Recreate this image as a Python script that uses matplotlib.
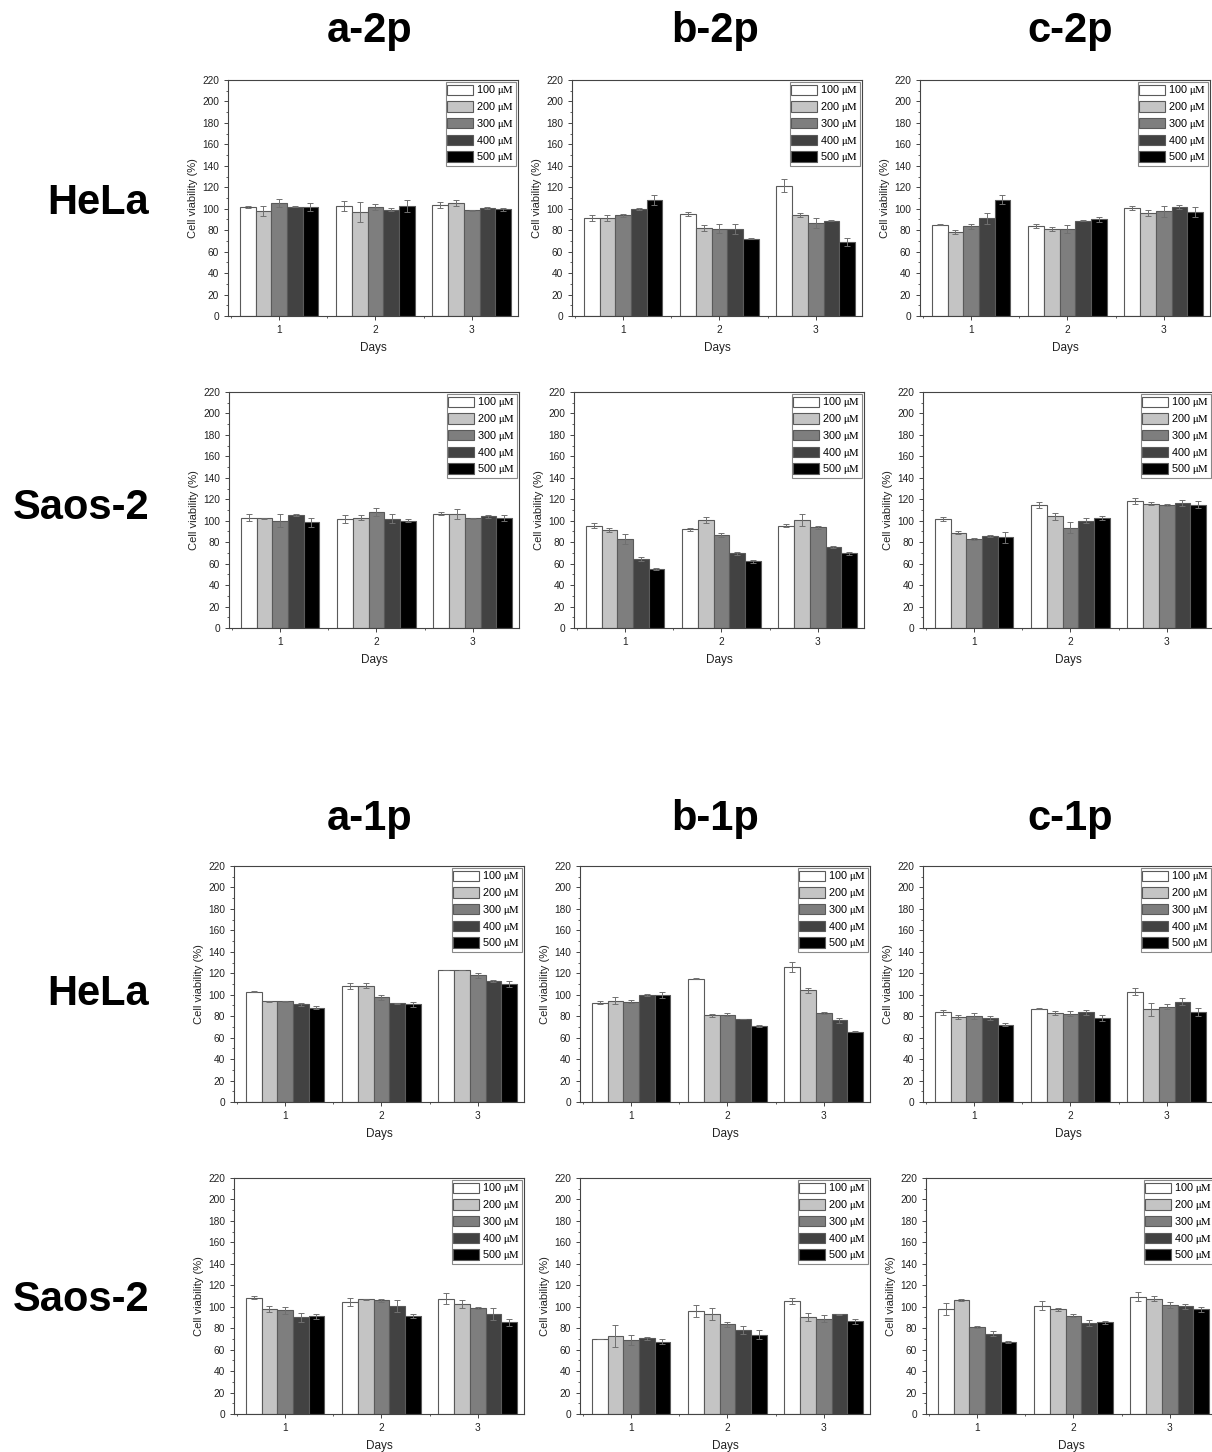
import numpy as np
import matplotlib
matplotlib.use("Agg")
import matplotlib.pyplot as plt
from matplotlib.ticker import MultipleLocator

plt.rcParams["font.family"] = ["Liberation Sans", "DejaVu Sans"]
plt.rcParams["mathtext.fontset"] = "stix"

days = [1, 2, 3]
concentrations = ["100", "200", "300", "400", "500"]
bar_colors = ["#ffffff", "#c4c4c4", "#7e7e7e", "#424242", "#000000"]

col_titles_2p = ["a-2p", "b-2p", "c-2p"]
col_titles_1p = ["a-1p", "b-1p", "c-1p"]
row_titles = ["HeLa", "Saos-2", "HeLa", "Saos-2"]

# mean viability (%) per concentration, rows = concentration, cols = day
hela_a2p = [[102, 102.5, 103.5], [98, 97, 105.5], [105.5, 101.5, 98.5], [102, 99, 100.5], [101.5, 102.5, 99.5]]
hela_a2p_err = [[1, 5, 3], [5, 9, 2.5], [3.5, 2.5, 0.3], [0.5, 1.5, 1], [4, 5.5, 1.5]]
hela_b2p = [[91.5, 95, 121.5], [91.5, 82, 94], [94, 81.5, 87], [99.5, 81, 89], [108, 72, 69]]
hela_b2p_err = [[2.5, 1.5, 6], [2.5, 2.5, 2], [1.5, 4.5, 4.5], [1, 4.5, 0.5], [4.5, 0.3, 4]]
hela_c2p = [[85, 84, 100.5], [78.5, 81, 96], [83.5, 81, 97.5], [91, 89, 101.5], [108.5, 90, 97]]
hela_c2p_err = [[0.5, 1.5, 2], [2, 2, 2.5], [2.5, 3.5, 5], [5, 0.5, 2], [4.5, 2.5, 5]]

saos_a2p = [[103, 101.5, 106.5], [102.5, 103, 106.5], [100, 108, 102.5], [105, 102, 104], [98.5, 100, 102.5]]
saos_a2p_err = [[3, 4, 1.5], [0.5, 2.5, 4.5], [6, 3.5, 0.5], [1, 4.5, 1.5], [4.5, 1.5, 3]]
saos_b2p = [[95.5, 92, 95.5], [91.5, 100.5, 101], [83, 87, 94], [64, 69.5, 75.5], [55, 62, 69.5]]
saos_b2p_err = [[2.5, 1.5, 1], [2, 3, 5.5], [4.5, 2, 1.5], [2, 1, 1], [0.5, 1, 1]]
saos_c2p = [[101.5, 114.5, 118.5], [89, 104, 116], [83, 93.5, 114.5], [85.5, 100, 116.5], [84.5, 102.5, 115]]
saos_c2p_err = [[2, 2.5, 2.5], [1.5, 3.5, 1], [0.8, 5, 1], [0.8, 2.5, 2.5], [5, 2, 3]]

hela_a1p = [[103, 108, 123], [94, 108.5, 123], [94, 97.5, 118], [91, 92, 113], [88, 91, 110]]
hela_a1p_err = [[0.3, 2.5, 0.3], [0.5, 2.5, 0.3], [0.5, 2.5, 2], [1.5, 0.5, 1], [1.5, 2.5, 2.5]]
hela_b1p = [[92.5, 115, 126], [94.5, 81, 104], [93.5, 81.5, 83], [99.5, 77.5, 76], [99.5, 70.5, 65.5]]
hela_b1p_err = [[1.5, 0.5, 4.5], [3.5, 1.5, 2], [1.5, 1.5, 0.8], [1, 0.3, 2.5], [3, 1, 0.3]]
hela_c1p = [[83.5, 87, 103], [79.5, 83, 86.5], [80, 82.5, 89], [78.5, 83.5, 93.5], [72, 78.5, 84]]
hela_c1p_err = [[2.5, 0.5, 3], [2, 1.5, 6], [3, 2.5, 2.5], [2, 2.5, 3.5], [1.5, 3, 4]]

saos_a1p = [[108.5, 104.5, 107.5], [98, 107, 102.5], [96.5, 106, 99], [90, 100.5, 93.5], [91, 91.5, 85.5]]
saos_a1p_err = [[1.5, 3.5, 5], [3, 0.5, 4], [3, 1.5, 0.8], [4.5, 5.5, 5.5], [2.5, 2, 3]]
saos_b1p = [[70, 96, 105.5], [72.5, 93, 90.5], [69, 83.5, 89], [70.5, 78.5, 93], [67.5, 74, 86.5]]
saos_b1p_err = [[0.3, 5.5, 3], [10.5, 5.5, 3.5], [4.5, 2, 3.5], [1.5, 3.5, 0.3], [2.5, 4.5, 2.5]]
saos_c1p = [[98, 101, 109.5], [106, 97.5, 107.5], [81, 91.5, 101.5], [75, 85, 100.5], [67, 85.5, 97.5]]
saos_c1p_err = [[5.5, 4.5, 4.5], [1, 1.5, 2.5], [1, 1.5, 2.5], [2.5, 3, 2.5], [1, 1.5, 2]]

panels = [
    [(hela_a2p, hela_a2p_err), (hela_b2p, hela_b2p_err), (hela_c2p, hela_c2p_err)],
    [(saos_a2p, saos_a2p_err), (saos_b2p, saos_b2p_err), (saos_c2p, saos_c2p_err)],
    [(hela_a1p, hela_a1p_err), (hela_b1p, hela_b1p_err), (hela_c1p, hela_c1p_err)],
    [(saos_a1p, saos_a1p_err), (saos_b1p, saos_b1p_err), (saos_c1p, saos_c1p_err)],
]

W, H = 1212, 1452
fig = plt.figure(figsize=(W / 100, H / 100), dpi=100)

# axes boxes in pixels: (left, top, width, height)
row_tops = [80, 392, 866, 1178]
row_lefts = [[228, 572, 920], [229, 574, 923], [234, 580, 923], [234, 580, 926]]
ax_w, ax_h = 290, 236

bar_w = 0.163
edge_col = "#5a5a5a"
axis_col = "#444444"

for r in range(4):
    for c in range(3):
        left = row_lefts[r][c]
        top = row_tops[r]
        ax = fig.add_axes([left / W, 1 - (top + ax_h) / H, ax_w / W, ax_h / H])
        means, errs = panels[r][c]
        x = np.array(days, dtype=float)
        for i, conc in enumerate(concentrations):
            ax.bar(x + (i - 2) * bar_w, means[i], width=bar_w, color=bar_colors[i],
                   edgecolor=edge_col, linewidth=0.8, label=f"{conc} $\\mathrm{{\\mu M}}$",
                   yerr=errs[i], error_kw=dict(ecolor="#707070", elinewidth=0.7,
                                               capsize=2.2, capthick=0.7))
        ax.set_xlim(0.47, 3.48)
        ax.set_ylim(0, 220)
        ax.set_xticks(days)
        ax.xaxis.set_minor_locator(MultipleLocator(0.5))
        ax.yaxis.set_major_locator(MultipleLocator(20))
        ax.yaxis.set_minor_locator(MultipleLocator(10))
        ax.tick_params(which="major", length=3, width=0.7, labelsize=7.3,
                       color=axis_col, labelcolor="#222222")
        ax.tick_params(which="minor", length=1.6, width=0.6, color=axis_col)
        for s in ax.spines.values():
            s.set_color(axis_col)
            s.set_linewidth(0.8)
        ax.set_xlabel("Days", fontsize=8.5, color="#222222", labelpad=5)
        ax.set_ylabel("Cell viability (%)", fontsize=8, color="#222222", labelpad=3)
        leg = ax.legend(loc="upper right", fontsize=7.8, fancybox=False, frameon=True,
                        edgecolor="#888888", framealpha=1, borderpad=0.12,
                        borderaxespad=0.2, labelspacing=0.25, handlelength=2.4,
                        handleheight=1.1, handletextpad=0.3)
        leg.get_frame().set_linewidth(0.8)

# column headings
col_x = [370, 715, 1070]
for c in range(3):
    fig.text(col_x[c] / W, 1 - 31 / H, col_titles_2p[c], ha="center", va="center",
             fontsize=30, fontweight="bold")
    fig.text(col_x[c] / W, 1 - 819 / H, col_titles_1p[c], ha="center", va="center",
             fontsize=30, fontweight="bold")

# row headings
row_label_pos = [(98, 203), (81, 508), (98, 994), (81, 1300)]
for (px, py), name in zip(row_label_pos, row_titles):
    fig.text(px / W, 1 - py / H, name, ha="center", va="center",
             fontsize=30, fontweight="bold")

fig.savefig("out.png", dpi=100, facecolor="white")
